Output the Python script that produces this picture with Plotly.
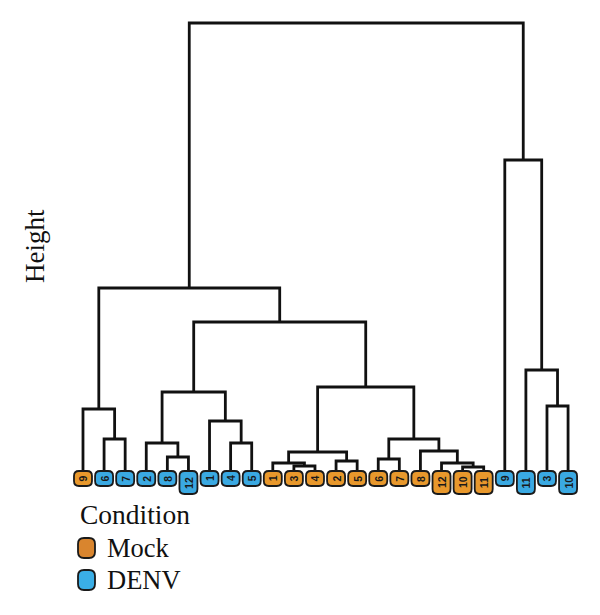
import plotly.graph_objects as go

# ---- data ----
leaf_labels = ["9", "6", "7", "2", "8", "12", "1", "4", "5", "1", "3", "4",
               "2", "5", "6", "7", "8", "12", "10", "11", "9", "11", "3", "10"]
leaf_condition = ["Mock", "DENV", "DENV", "DENV", "DENV", "DENV", "DENV", "DENV",
                  "DENV", "Mock", "Mock", "Mock", "Mock", "Mock", "Mock", "Mock",
                  "Mock", "Mock", "Mock", "Mock", "DENV", "DENV", "DENV", "DENV"]
# merges (scipy-like ids: leaves 0..23, merged clusters 24..)
merge_left = [1, 4, 3, 7, 6, 26, 0, 10, 9, 12, 32, 14, 18, 17, 16, 35, 34, 29, 30, 22, 21, 20, 42]
merge_right = [2, 5, 25, 8, 27, 28, 24, 11, 31, 13, 33, 15, 19, 36, 37, 38, 39, 40, 41, 23, 43, 44, 45]
merge_height = [31, 13, 27, 27, 49, 78, 61, 4, 7, 9, 18, 11, 3, 7, 19, 31, 83, 148, 182, 64, 100, 310, 447]

condition_names = ["Mock", "DENV"]
condition_colors = {"Mock": "#E8982C", "DENV": "#3AA9E2"}
legend_colors = {"Mock": "#D9852E", "DENV": "#3AAEE6"}

n = len(leaf_labels)
node_x = list(range(n))
node_h = [0] * n
xs, ys = [], []
for l, r, h in zip(merge_left, merge_right, merge_height):
    xl, xr = node_x[l], node_x[r]
    xs += [xl, xl, xr, xr, None]
    ys += [node_h[l], h, h, node_h[r], None]
    node_x.append((xl + xr) / 2)
    node_h.append(h)

fig = go.Figure()
fig.add_trace(go.Scatter(x=xs, y=ys, mode="lines",
                         line=dict(color="#111111", width=2.8),
                         hoverinfo="skip", showlegend=False))


def rrect(w, h, r, top):
    # rounded rectangle path in pixel offsets, centered horizontally, from y=top down by h
    x0, x1 = -w / 2, w / 2
    y0, y1 = top, top - h
    return (f"M{x0+r},{y0} L{x1-r},{y0} Q{x1},{y0} {x1},{y0-r} "
            f"L{x1},{y1+r} Q{x1},{y1} {x1-r},{y1} L{x0+r},{y1} "
            f"Q{x0},{y1} {x0},{y1+r} L{x0},{y0-r} Q{x0},{y0} {x0+r},{y0} Z")


shapes = []
annotations = []
for i, (lab, cond) in enumerate(zip(leaf_labels, leaf_condition)):
    hgt = 15 if len(lab) == 1 else 23
    shapes.append(dict(type="path", xref="x", yref="y", xsizemode="pixel", ysizemode="pixel",
                       xanchor=i, yanchor=0, path=rrect(18, hgt, 5, -1),
                       fillcolor=condition_colors[cond],
                       line=dict(color="#1a1a1a", width=1.8), layer="above"))
    annotations.append(dict(x=i, y=-(1 + hgt / 2), xref="x", yref="y", text=f"<b>{lab}</b>",
                            showarrow=False, textangle=-90,
                            font=dict(family="Liberation Sans", size=10.5, color="#1a1a1a"),
                            xanchor="center", yanchor="middle"))

L, R, T, B = 60, 10, 13, 110
W, H = 600, 615
pw, ph = W - L - R, H - T - B


def px(x):
    return (x - L) / pw


def py(y):
    return 1 - (y - T) / ph


serif = "Liberation Serif"
annotations.append(dict(x=px(35), y=py(246), xref="paper", yref="paper", text="Height",
                        showarrow=False, textangle=-90,
                        font=dict(family=serif, size=27, color="#111"),
                        xanchor="center", yanchor="middle"))
annotations.append(dict(x=px(78), y=py(514), xref="paper", yref="paper", text="Condition",
                        showarrow=False, font=dict(family=serif, size=27.5, color="#111"),
                        xanchor="left", yanchor="middle"))
for k, name in enumerate(condition_names):
    cy = 548 + 32 * k
    shapes.append(dict(type="path", xref="paper", yref="paper", xsizemode="pixel", ysizemode="pixel",
                       xanchor=px(86.5), yanchor=py(cy), path=rrect(17, 20, 6, 10),
                       fillcolor=legend_colors[name], line=dict(color="#1a1a1a", width=1.8)))
    annotations.append(dict(x=px(105), y=py(cy), xref="paper", yref="paper", text=name,
                            showarrow=False, font=dict(family=serif, size=26.5, color="#111"),
                            xanchor="left", yanchor="middle"))

fig.update_layout(
    width=W, height=H,
    margin=dict(l=L, r=R, t=T, b=B),
    paper_bgcolor="white", plot_bgcolor="white",
    xaxis=dict(range=[-1.09, 24.04], visible=False),
    yaxis=dict(range=[-35, 457], visible=False),
    shapes=shapes, annotations=annotations, showlegend=False,
)
fig.write_html("out.html")
